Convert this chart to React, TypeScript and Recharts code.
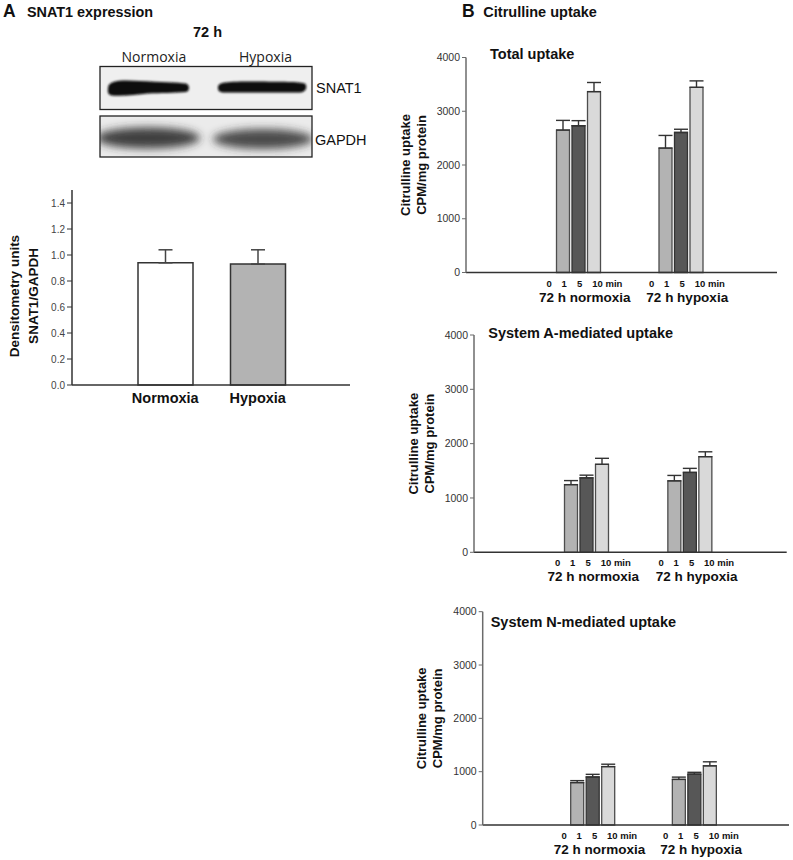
import React from "react";
import { Bar, BarChart, Cell, ErrorBar, Label, XAxis, YAxis } from "recharts";

// ---- panel A: SNAT1 densitometry ----
const conditions = ["Normoxia", "Hypoxia"];
const snat1Ratio = [0.94, 0.93];
const snat1Err = [0.1, 0.11];
const ratioTicks = [0, 0.2, 0.4, 0.6, 0.8, 1.0, 1.2, 1.4];
const ratioFills = ["#ffffff", "#b3b3b3"];

// ---- panel B: citrulline uptake (CPM/mg protein) ----
const groups = ["72 h normoxia", "72 h hypoxia"];
const minuteLabels = ["0", "1", "5", "10 min"];
const uptakeTicks = [0, 1000, 2000, 3000, 4000];

const totalMin1 = [2650, 2315];
const totalMin5 = [2730, 2605];
const totalMin10 = [3365, 3445];
const totalErr1 = [180, 235];
const totalErr5 = [95, 60];
const totalErr10 = [170, 120];

const sysAMin1 = [1245, 1315];
const sysAMin5 = [1370, 1470];
const sysAMin10 = [1620, 1760];
const sysAErr1 = [75, 100];
const sysAErr5 = [50, 75];
const sysAErr10 = [110, 90];

const sysNMin1 = [795, 855];
const sysNMin5 = [900, 955];
const sysNMin10 = [1095, 1110];
const sysNErr1 = [37, 43];
const sysNErr5 = [50, 33];
const sysNErr10 = [45, 75];

const sans = "'Liberation Sans', Arial, Helvetica, sans-serif";

const ratioRows = conditions.map((c, i) => ({
  condition: c,
  ratio: snat1Ratio[i],
  err: [0, snat1Err[i]],
}));

function uptakeRows(m1: number[], m5: number[], m10: number[], e1: number[], e5: number[], e10: number[]) {
  return groups.map((g, i) => ({
    group: g,
    m0: 0,
    m1: m1[i],
    m5: m5[i],
    m10: m10[i],
    e1: [0, e1[i]],
    e5: [0, e5[i]],
    e10: [0, e10[i]],
  }));
}

const minuteOffsets = [-21, -6, 9.5, 22];

function GroupTick(props: any) {
  const { x, y, payload } = props;
  return (
    <g fontFamily={sans} fontWeight={700} fill="#111">
      {minuteLabels.map((m, i) => (
        <text
          key={m}
          x={x + minuteOffsets[i]}
          y={y + 14}
          textAnchor={i === 3 ? "start" : "middle"}
          fontSize={9.5}
        >
          {m}
        </text>
      ))}
      <text x={x + 14.5} y={y + 29} textAnchor="middle" fontSize={13.5}>
        {payload.value}
      </text>
    </g>
  );
}

function ConditionTick(props: any) {
  const { x, y, payload } = props;
  return (
    <text x={x} y={y + 18} textAnchor="middle" fontSize={14.5} fontWeight={700} fontFamily={sans} fill="#111">
      {payload.value}
    </text>
  );
}

function yTitle(lines: string[], offsets: number[], size: number, shift: number) {
  return (props: any) => {
    const vb = props.viewBox || { x: 0, y: 0, width: 0, height: 0 };
    const right = vb.x + vb.width;
    const cy = vb.y + vb.height / 2 + shift;
    return (
      <g>
        {lines.map((l, i) => (
          <text
            key={l}
            x={right + offsets[i]}
            y={cy}
            transform={`rotate(-90 ${right + offsets[i]} ${cy})`}
            textAnchor="middle"
            fontSize={size}
            fontWeight={700}
            fontFamily={sans}
            fill="#111"
          >
            {l}
          </text>
        ))}
      </g>
    );
  };
}

type PanelProps = {
  top: number;
  height: number;
  data: ReturnType<typeof uptakeRows>;
  margin: { top: number; right: number; bottom: number; left: number };
  pad: number;
  xHeight: number;
  labelOffsets: number[];
};

// charts in B start at x=385 so the rotated titles have room
function UptakePanel({ top, height, data, margin, pad, xHeight, labelOffsets }: PanelProps) {
  return (
    <div style={{ position: "absolute", left: 385, top, width: 408, height }}>
      <BarChart width={408} height={height} data={data} margin={{ ...margin, left: margin.left + 15 }} barGap={2.5}>
        <XAxis
          dataKey="group"
          height={xHeight}
          padding={{ left: pad, right: pad }}
          tickLine={false}
          tickSize={0}
          tickMargin={0}
          interval={0}
          axisLine={{ stroke: "#333", strokeWidth: 1.5 }}
          tick={(p: any) => <GroupTick {...p} />}
        />
        <YAxis
          width={46}
          domain={[0, 4000]}
          ticks={uptakeTicks}
          tickSize={4}
          tickMargin={2}
          axisLine={{ stroke: "#6b6b6b", strokeWidth: 1.5 }}
          tickLine={{ stroke: "#6b6b6b" }}
          tick={{ fontSize: 10.5, fill: "#333", fontFamily: sans }}
        >
          <Label content={yTitle(["Citrulline uptake", "CPM/mg protein"], labelOffsets, 13, 0)} />
        </YAxis>
        <Bar dataKey="m0" barSize={13} fill="#cccccc" isAnimationActive={false} />
        <Bar dataKey="m1" barSize={13} fill="#b3b3b3" stroke="#4d4d4d" strokeWidth={1.3} isAnimationActive={false}>
          <ErrorBar dataKey="e1" width={7} stroke="#333" strokeWidth={1.4} direction="y" />
        </Bar>
        <Bar dataKey="m5" barSize={13} fill="#575757" stroke="#333" strokeWidth={1.3} isAnimationActive={false}>
          <ErrorBar dataKey="e5" width={7} stroke="#333" strokeWidth={1.4} direction="y" />
        </Bar>
        <Bar dataKey="m10" barSize={13} fill="#d9d9d9" stroke="#4d4d4d" strokeWidth={1.3} isAnimationActive={false}>
          <ErrorBar dataKey="e10" width={7} stroke="#333" strokeWidth={1.4} direction="y" />
        </Bar>
      </BarChart>
    </div>
  );
}

function Overlay() {
  return (
    <svg
      width={793}
      height={860}
      style={{ position: "absolute", left: 0, top: 0, pointerEvents: "none" }}
      fontFamily={sans}
    >
      <defs>
        <filter id="blurTight" x="-20%" y="-50%" width="140%" height="200%">
          <feGaussianBlur stdDeviation="1.3" />
        </filter>
        <filter id="blurWide" x="-20%" y="-80%" width="140%" height="260%">
          <feGaussianBlur stdDeviation="4" />
        </filter>
        <clipPath id="blot2">
          <rect x={100} y={116} width={212} height={41} />
        </clipPath>
      </defs>

      <text x={3} y={16.5} fontSize={17.5} fontWeight={700} fill="#111">A</text>
      <text x={27} y={16.5} fontSize={14.4} fontWeight={700} fill="#111">SNAT1 expression</text>
      <text x={193} y={36.5} fontSize={14.5} fontWeight={700} fill="#111">72 h</text>
      <text x={121.5} y={62} fontSize={14} fontFamily="'Open Sans', sans-serif" fill="#222">Normoxia</text>
      <text x={239} y={62} fontSize={14} fontFamily="'Open Sans', sans-serif" fill="#222">Hypoxia</text>

      {/* SNAT1 blot */}
      <rect x={100} y={66.5} width={212} height={43} fill="#efefef" stroke="#222" strokeWidth={1.3} />
      <g filter="url(#blurTight)" fill="#0d0d0d">
        <path d="M108,88 C108,79.5 124,80 140,81 C160,82 178,82.5 186,83.5 C190,85 190,91 186,92 C175,93 160,93 148,93.5 C135,95 118,97 110,95 C107,93 108,90 108,88 Z" />
        <path d="M218,87 C218,81.5 230,81.5 260,81.5 C285,82 303,81.5 305.5,84 C307.5,88 305.5,92 300,92.5 C280,92.5 250,92.5 225,92.5 C218,92.5 218,90 218,87 Z" />
      </g>
      <text x={316} y={93} fontSize={14.5} fill="#111">SNAT1</text>

      {/* GAPDH blot */}
      <rect x={100} y={116} width={212} height={41} fill="#ebebeb" stroke="#222" strokeWidth={1.3} />
      <g clipPath="url(#blot2)">
        <g filter="url(#blurWide)" fill="#2e2e2e">
          <ellipse cx={148} cy={138} rx={52} ry={10.5} opacity={0.9} />
          <ellipse cx={263} cy={139} rx={50} ry={10} opacity={0.85} />
        </g>
      </g>
      <text x={315} y={145} fontSize={14.5} fill="#111">GAPDH</text>

      <text x={462} y={16.5} fontSize={17.5} fontWeight={700} fill="#111">B</text>
      <text x={483.3} y={16.5} fontSize={14.5} fontWeight={700} fill="#111">Citrulline uptake</text>

      <text x={490} y={59} fontSize={14.5} fontWeight={700} fill="#111">Total uptake</text>
      <text x={488.3} y={338} fontSize={14.5} fontWeight={700} fill="#111">System A-mediated uptake</text>
      <text x={490.7} y={626.5} fontSize={14.5} fontWeight={700} fill="#111">System N-mediated uptake</text>
    </svg>
  );
}

export default function App() {
  const totalRows = uptakeRows(totalMin1, totalMin5, totalMin10, totalErr1, totalErr5, totalErr10);
  const sysARows = uptakeRows(sysAMin1, sysAMin5, sysAMin10, sysAErr1, sysAErr5, sysAErr10);
  const sysNRows = uptakeRows(sysNMin1, sysNMin5, sysNMin10, sysNErr1, sysNErr5, sysNErr10);

  return (
    <div style={{ position: "absolute", left: 0, top: 0, width: 793, height: 860, background: "#fff", fontFamily: sans }}>
      {/* panel A densitometry */}
      <div style={{ position: "absolute", left: 0, top: 170, width: 370, height: 250 }}>
        <BarChart width={370} height={250} data={ratioRows} margin={{ top: 20, right: 20, bottom: 5, left: 32 }}>
          <XAxis
            dataKey="condition"
            height={30}
            padding={{ left: 47, right: 46 }}
            tickLine={false}
            tickSize={0}
            tickMargin={0}
            interval={0}
            axisLine={{ stroke: "#333", strokeWidth: 1.5 }}
            tick={(p: any) => <ConditionTick {...p} />}
          />
          <YAxis
            width={40}
            domain={[0, 1.5]}
            ticks={ratioTicks}
            tickFormatter={(v: number) => v.toFixed(1)}
            tickSize={5}
            tickMargin={2}
            axisLine={{ stroke: "#333", strokeWidth: 1.5 }}
            tickLine={{ stroke: "#333" }}
            tick={{ fontSize: 10, fill: "#444", fontFamily: sans }}
          >
            <Label content={yTitle(["Densitometry units", "SNAT1/GAPDH"], [-53.5, -34], 13.5, 8.5)} />
          </YAxis>
          <Bar dataKey="ratio" barSize={55} stroke="#333" strokeWidth={1.5} isAnimationActive={false}>
            {ratioRows.map((r, i) => (
              <Cell key={r.condition} fill={ratioFills[i]} />
            ))}
            <ErrorBar dataKey="err" width={7} stroke="#444" strokeWidth={1.5} direction="y" />
          </Bar>
        </BarChart>
      </div>

      <UptakePanel
        top={40}
        height={280}
        data={totalRows}
        margin={{ top: 17.5, right: 16, bottom: 7.5, left: 20 }}
        pad={53}
        xHeight={40}
        labelOffsets={[-56, -40]}
      />
      <UptakePanel
        top={318}
        height={280}
        data={sysARows}
        margin={{ top: 17, right: 6.3, bottom: 5.7, left: 28 }}
        pad={53}
        xHeight={40}
        labelOffsets={[-56, -40]}
      />
      <UptakePanel
        top={595}
        height={265}
        data={sysNRows}
        margin={{ top: 16.7, right: 4, bottom: 0, left: 36.7 }}
        pad={51.5}
        xHeight={35}
        labelOffsets={[-57, -41]}
      />

      <Overlay />
    </div>
  );
}
